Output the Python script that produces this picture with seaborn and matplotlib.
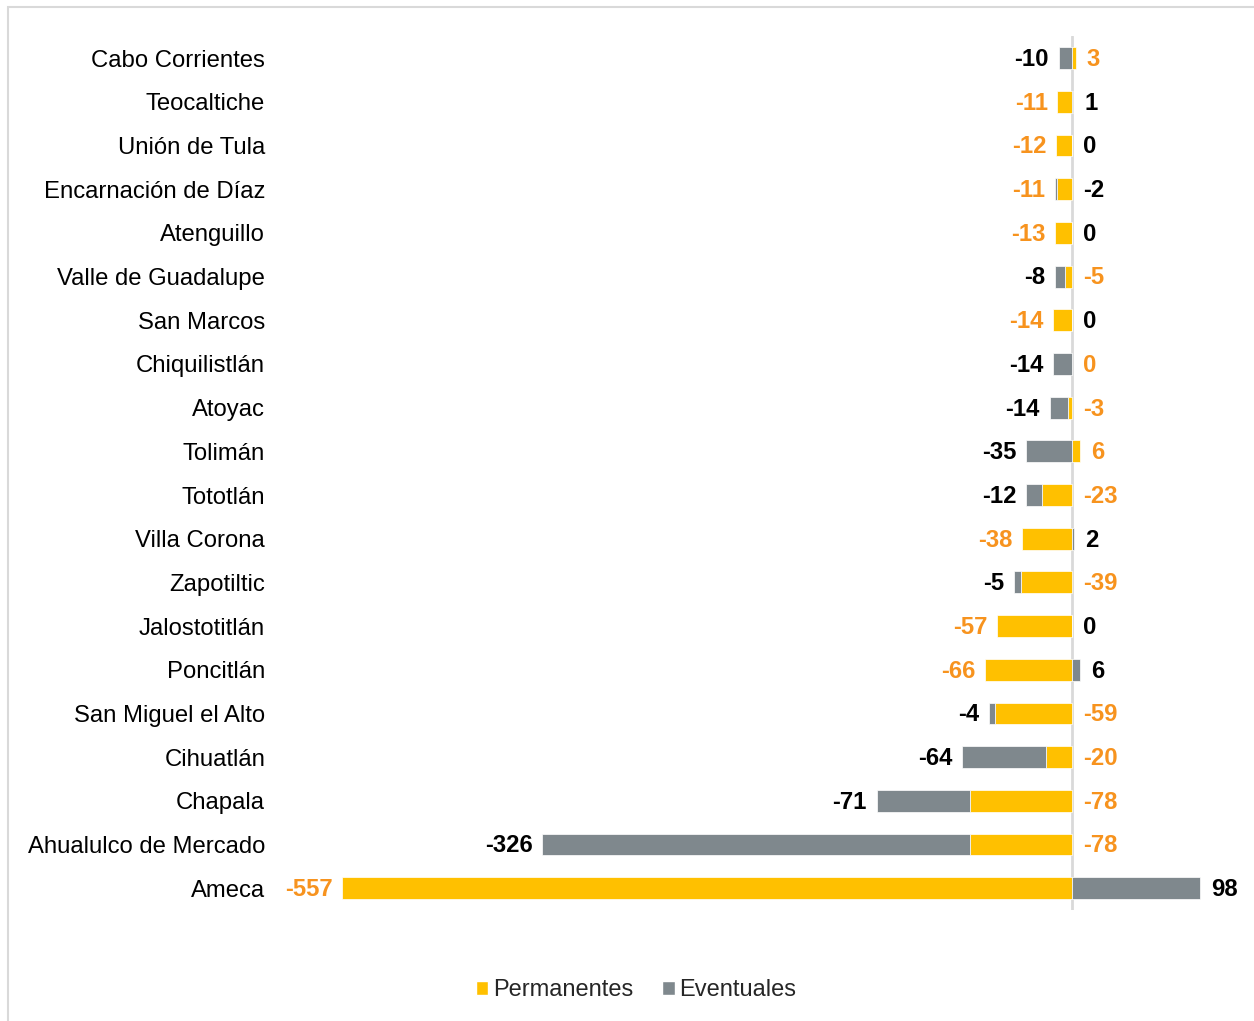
import matplotlib
matplotlib.use('Agg')
import matplotlib.pyplot as plt
import seaborn as sns
import pandas as pd
from matplotlib.patches import Patch, Rectangle

municipios = ['Cabo Corrientes', 'Teocaltiche', 'Unión de Tula', 'Encarnación de Díaz',
              'Atenguillo', 'Valle de Guadalupe', 'San Marcos', 'Chiquilistlán', 'Atoyac',
              'Tolimán', 'Tototlán', 'Villa Corona', 'Zapotiltic', 'Jalostotitlán',
              'Poncitlán', 'San Miguel el Alto', 'Cihuatlán', 'Chapala',
              'Ahualulco de Mercado', 'Ameca']
permanentes = [3, -11, -12, -11, -13, -5, -14, 0, -3, 6, -23, -38, -39, -57, -66, -59, -20, -78, -78, -557]
eventuales = [-10, 1, 0, -2, 0, -8, 0, -14, -14, -35, -12, 2, -5, 0, 6, -4, -64, -71, -326, 98]
# rows where the Permanentes label sits on the left even though Eventuales is negative
perm_label_left = ['Encarnación de Díaz']

YELLOW = '#FFC000'
GRAY = '#7F888D'
ORANGE = '#F7931E'

df = pd.DataFrame({'municipio': municipios, 'permanentes': permanentes, 'eventuales': eventuales})

sns.set_style("white")
plt.rcParams['font.family'] = ['Liberation Sans', 'DejaVu Sans']

fig = plt.figure(figsize=(12.54, 10.21), dpi=100)
ax = fig.add_axes([0.2153, 0.1087, 0.7815, 0.8557])

# Permanentes from zero
sns.barplot(data=df, y='municipio', x='permanentes', color=YELLOW, orient='h',
            width=0.5, ax=ax, saturation=1, edgecolor='white', linewidth=0.5)

# Eventuales stacked on permanentes when both are negative
base = [p if (p < 0 and e < 0) else 0 for p, e in zip(permanentes, eventuales)]
ax.barh(range(len(municipios)), eventuales, left=base, height=0.5, color=GRAY,
        edgecolor='white', linewidth=0.5)

ax.axvline(0, color='#D9D9D9', linewidth=2, zorder=0)

ax.set_xlim(-612, 136)
ax.set_ylim(len(municipios) - 0.5, -0.5)
ax.set_xlabel('')
ax.set_ylabel('')
ax.set_xticks([])
ax.tick_params(axis='y', length=0, pad=3.5, labelsize=17.2, labelcolor='black')
for s in ax.spines.values():
    s.set_visible(False)

# Value labels: outer-left segment on the left, the other one right of zero
for i, (m, p, e, b) in enumerate(zip(municipios, permanentes, eventuales, base)):
    left_end = min(0, p, b + e)
    right_end = max(0, p, e)
    if e < 0 and m not in perm_label_left:
        lval, lcol, rval, rcol = e, 'black', p, ORANGE
    else:
        lval, lcol, rval, rcol = p, ORANGE, e, 'black'
    ax.annotate(f'{lval}', xy=(left_end, i), xytext=(-7, -1), textcoords='offset points',
                ha='right', va='center', fontsize=17.2, fontweight='bold', color=lcol)
    ax.annotate(f'{rval}', xy=(right_end, i), xytext=(8, -1), textcoords='offset points',
                ha='left', va='center', fontsize=17.2, fontweight='bold', color=rcol)

# Light frame around the chart
fig.patches.append(Rectangle((8 / 1254, -0.01), 1.1, 1 - 7 / 1021 + 0.01, transform=fig.transFigure,
                             fill=False, edgecolor='#D9D9D9', linewidth=1.5))

handles = [Patch(facecolor=YELLOW, label='Permanentes'), Patch(facecolor=GRAY, label='Eventuales')]
fig.legend(handles=handles, loc='center', bbox_to_anchor=(636 / 1254, 1 - 990 / 1021), ncol=2,
           frameon=False, fontsize=17, handlelength=0.55, handleheight=0.55, handletextpad=0.2,
           columnspacing=1.2)

fig.savefig('out.png', dpi=100)
plt.close()
